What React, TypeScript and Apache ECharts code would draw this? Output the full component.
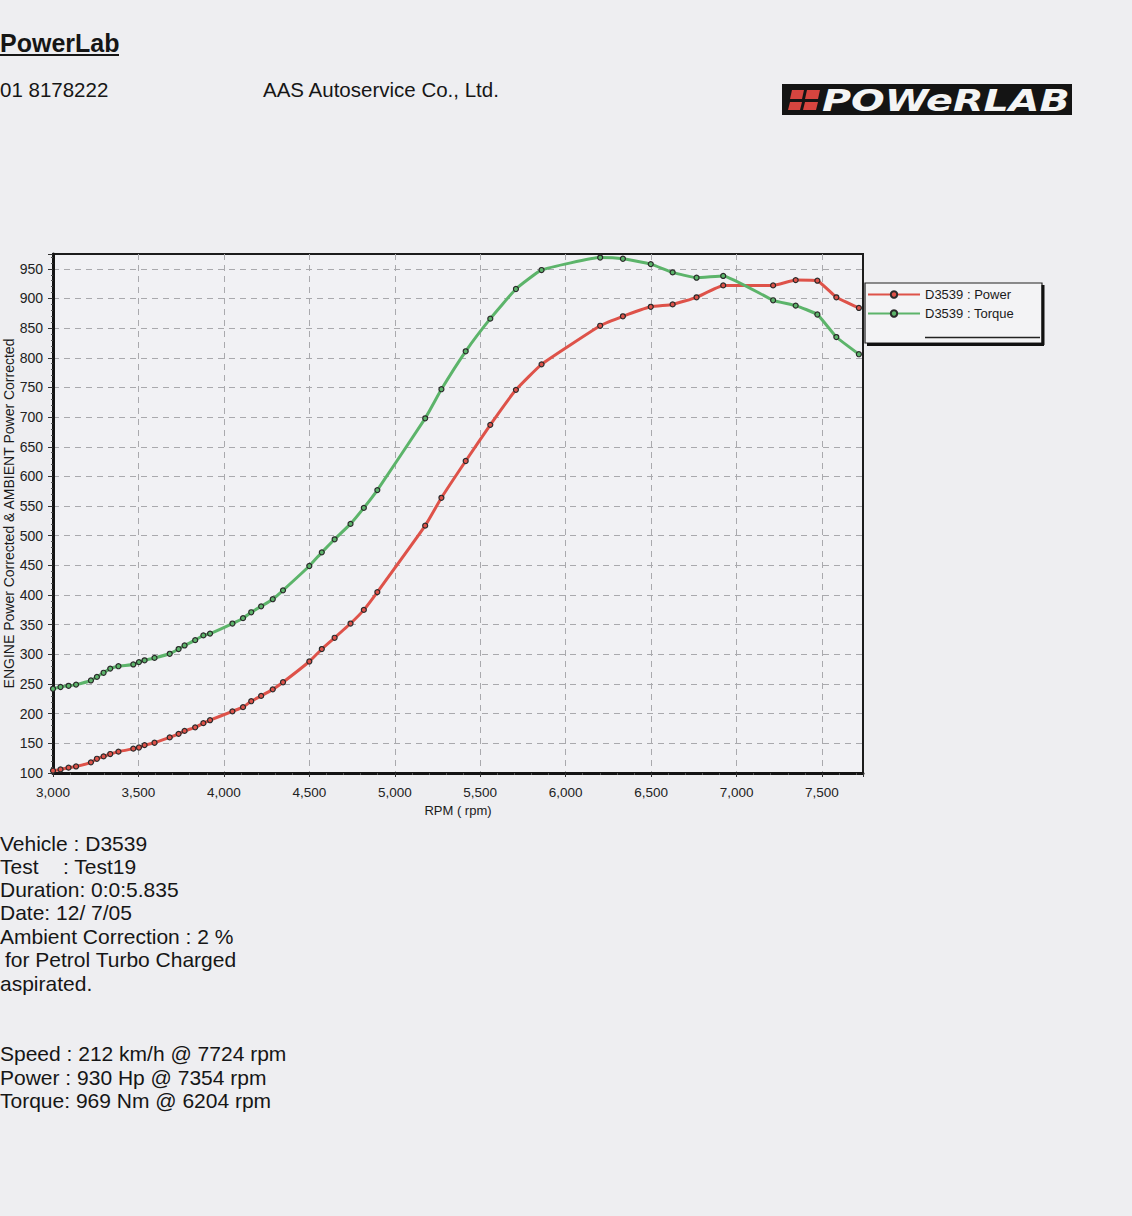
import React, { useEffect, useRef } from 'react';
import * as echarts from 'echarts';

const rpm = [3000, 3044, 3091, 3135, 3222, 3257, 3296, 3335, 3383, 3470, 3503, 3536, 3594, 3683, 3735, 3770, 3832, 3880, 3919, 4050, 4112, 4160, 4218, 4286, 4346, 4500, 4573, 4648, 4741, 4819, 4898, 5178, 5273, 5415, 5559, 5709, 5859, 6202, 6335, 6498, 6626, 6766, 6922, 7214, 7346, 7473, 7584, 7716];
const power = [104, 106, 109, 111, 118, 124, 128, 132, 136, 141, 143, 147, 151, 160, 166, 171, 177, 184, 189, 204, 211, 221, 230, 241, 253, 288, 309, 328, 352, 375, 405, 517, 564, 626, 687, 746, 789, 854, 870, 886, 890, 902, 922, 922, 931, 930, 902, 884];
const torque = [242, 245, 247, 249, 256, 262, 269, 276, 280, 283, 287, 290, 294, 301, 309, 315, 324, 332, 335, 352, 361, 371, 381, 393, 408, 449, 472, 494, 520, 547, 577, 698, 747, 811, 866, 916, 948, 969, 967, 958, 944, 935, 938, 897, 888, 873, 835, 806];

const seriesNames = ['D3539 : Power', 'D3539 : Torque'];
const xAxisTitle = 'RPM ( rpm)';
const yAxisTitle = 'ENGINE Power Corrected & AMBIENT Power Corrected';

const headerTitle = 'PowerLab';
const headerPhone = '01 8178222';
const headerCompany = 'AAS Autoservice Co., Ltd.';
const logoText = 'POWeRLAB';

const infoLabels = ['Vehicle : D3539', 'Test', 'Duration: 0:0:5.835', 'Date: 12/ 7/05', 'Ambient Correction : 2 %', 'for Petrol Turbo Charged', 'aspirated.'];
const testValue = ': Test19';
const summaryLines = ['Speed : 212 km/h @ 7724 rpm', 'Power : 930 Hp @ 7354 rpm', 'Torque: 969 Nm @ 6204 rpm'];

const FONT = "'Liberation Sans', Arial, sans-serif";
const RED = '#de5249';
const GREEN = '#5cb46a';

export default function App() {
  const ref = useRef<HTMLDivElement>(null);

  useEffect(() => {
    if (!ref.current) return;
    const chart = echarts.init(ref.current, undefined, { renderer: 'svg' });

    const txt = (text: string, x: number, y: number, size: number, extra: any = {}) => ({
      type: 'text',
      x,
      y,
      style: {
        text,
        fill: '#161616',
        fontSize: size,
        fontFamily: FONT,
        align: 'left',
        verticalAlign: 'middle',
        ...extra,
      },
    });

    const infoY = [843, 866, 889, 912, 936, 959, 983];
    const summaryY = [1053, 1077, 1100];

    const graphic: any[] = [
      txt(headerTitle, 0, 43, 25, { fontWeight: 'bold' }),
      { type: 'line', shape: { x1: 0, y1: 55, x2: 119, y2: 55 }, style: { stroke: '#161616', lineWidth: 2 } },
      txt(headerPhone, 0, 89, 20.5),
      txt(headerCompany, 263, 89, 20.5),
      // logo
      { type: 'rect', shape: { x: 782, y: 84, width: 290, height: 31 }, style: { fill: '#141414' } },
      { type: 'polygon', shape: { points: [[792, 90], [804, 90], [802, 99], [790, 99]] }, style: { fill: '#d6453f' } },
      { type: 'polygon', shape: { points: [[807, 90], [820, 90], [818, 99], [805, 99]] }, style: { fill: '#d6453f' } },
      { type: 'polygon', shape: { points: [[790, 102], [802, 102], [800, 110], [788, 110]] }, style: { fill: '#d6453f' } },
      { type: 'polygon', shape: { points: [[805, 102], [818, 102], [816, 110], [803, 110]] }, style: { fill: '#d6453f' } },
      {
        type: 'text',
        x: 822,
        y: 100,
        scaleX: 1.28,
        style: {
          text: logoText,
          fill: '#f4f4f4',
          fontSize: 31,
          fontWeight: 900,
          fontStyle: 'italic',
          fontFamily: "'DejaVu Sans', sans-serif",
          align: 'left',
          verticalAlign: 'middle',
        },
      },
      // legend box
      { type: 'rect', z: -1, shape: { x: 865, y: 283, width: 177, height: 60 }, style: { fill: '#f3f3f5', stroke: '#222', lineWidth: 1.2 } },
      { type: 'line', shape: { x1: 1043, y1: 285, x2: 1043, y2: 345 }, style: { stroke: '#111', lineWidth: 3 } },
      { type: 'line', shape: { x1: 867, y1: 344.5, x2: 1044, y2: 344.5 }, style: { stroke: '#111', lineWidth: 3 } },
      { type: 'line', shape: { x1: 925, y1: 337.5, x2: 1040, y2: 337.5 }, style: { stroke: '#222', lineWidth: 1.5 } },
    ];

    infoLabels.forEach((l, i) => {
      graphic.push(txt(l, i === 5 ? 5 : 0, infoY[i], 21));
    });
    graphic.push(txt(testValue, 63, infoY[1], 21));
    summaryLines.forEach((l, i) => graphic.push(txt(l, 0, summaryY[i], 21)));

    const mk = (name: string, vals: number[], color: string) => ({
      name,
      type: 'line',
      data: rpm.map((r, i) => [r, vals[i]]),
      smooth: 0.12,
      symbol: 'circle',
      symbolSize: 5,
      lineStyle: { color, width: 3 },
      itemStyle: { color, borderColor: '#2a2a2a', borderWidth: 1.2 },
      emphasis: { disabled: true },
    });

    chart.setOption({
      animation: false,
      backgroundColor: '#eeeef1',
      textStyle: { fontFamily: FONT },
      grid: {
        left: 53,
        top: 254,
        width: 810,
        height: 519,
        containLabel: false,
        outerBoundsMode: 'none',
        show: true,
        backgroundColor: '#f1f1f4',
        borderColor: '#1c1c1c',
        borderWidth: 2,
      },
      legend: {
        data: seriesNames,
        orient: 'vertical',
        left: 867,
        top: 287,
        padding: 0,
        itemWidth: 52,
        itemHeight: 8,
        itemGap: 4,
        textStyle: { fontSize: 13, color: '#1a1a1a', fontFamily: FONT, lineHeight: 15 },
        selectedMode: false,
      },
      xAxis: {
        type: 'value',
        min: 3000,
        max: 7740,
        interval: 500,
        name: xAxisTitle,
        nameLocation: 'middle',
        nameGap: 31,
        nameMoveOverlap: false,
        nameTextStyle: { fontSize: 13, color: '#1a1a1a', fontFamily: FONT },
        axisLine: { show: true, lineStyle: { color: '#141414', width: 3 } },
        axisTick: { show: true, length: 4, lineStyle: { color: '#333' } },
        minorTick: { show: true, splitNumber: 5, length: 2, lineStyle: { color: '#555' } },
        axisLabel: {
          margin: 12,
          fontSize: 13.5,
          color: '#222',
          fontFamily: FONT,
          showMaxLabel: false,
          formatter: (v: number) => v.toLocaleString('en-US'),
        },
        splitLine: { show: true, showMinLine: false, showMaxLine: false, lineStyle: { color: '#a9a9ad', width: 1, type: [6, 5] } },
      },
      yAxis: {
        type: 'value',
        min: 100,
        max: 975,
        interval: 50,
        name: yAxisTitle,
        nameLocation: 'middle',
        nameGap: 37,
        nameRotate: 90,
        nameMoveOverlap: false,
        nameTextStyle: { fontSize: 14, color: '#1a1a1a', fontFamily: FONT },
        axisLine: { show: true, lineStyle: { color: '#141414', width: 3 } },
        axisTick: { show: true, length: 5, lineStyle: { color: '#333' } },
        minorTick: { show: true, splitNumber: 5, length: 2, lineStyle: { color: '#555' } },
        axisLabel: { margin: 10, fontSize: 14, color: '#222', fontFamily: FONT, showMaxLabel: false },
        splitLine: { show: true, showMinLine: false, showMaxLine: false, lineStyle: { color: '#a9a9ad', width: 1, type: [6, 5] } },
      },
      series: [mk(seriesNames[0], power, RED), mk(seriesNames[1], torque, GREEN)],
      graphic,
    });

    return () => chart.dispose();
  }, []);

  return <div ref={ref} style={{ position: 'fixed', left: 0, top: 0, width: 1132, height: 1216 }} />;
}
